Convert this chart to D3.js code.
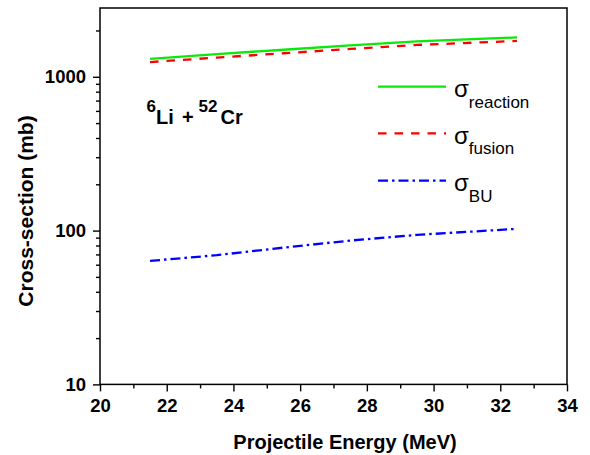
<!DOCTYPE html>
<html>
<head>
<meta charset="utf-8">
<script src="https://cdn.jsdelivr.net/npm/d3@7"></script>
<style>
  body { margin: 0; background: #fff; }
  text { font-family: "Liberation Sans", Arial, sans-serif; }
</style>
</head>
<body>
<div id="chart"></div>
<script>
// data
let energy = [21.5, 23.5, 25.5, 27.5, 29.5, 32.5];
let sigma_reaction = [1309, 1405, 1499, 1598, 1697, 1802];
let sigma_fusion = [1246, 1333, 1422, 1517, 1610, 1710];
let sigma_bu = [63.5, 69.2, 77.5, 86.1, 93.8, 102.6];

let x_ticks = [20, 22, 24, 26, 28, 30, 32, 34];
let y_ticks = [10, 100, 1000];

let series = [
  {name: "reaction", values: sigma_reaction, color: "#0be80b", dash: null},
  {name: "fusion", values: sigma_fusion, color: "#ff0000", dash: "8.5,8"},
  {name: "BU", values: sigma_bu, color: "#0000ff", dash: "10,4,2.5,4"}
];

let w = 590;
let h = 455;
let m_left = 100, m_right = 567, m_top = 8, m_bottom = 384.4;

let svg = d3.select("#chart")
            .append("svg")
              .attr("width", w)
              .attr("height", h);

// scales
let xScale = d3.scaleLinear()
               .domain([20, 34])
               .range([m_left, m_right]);
let yScale = d3.scaleLog()
               .domain([10, 2800])
               .range([m_bottom, m_top]);

// minor ticks
let x_minor = d3.range(21, 34, 2);
let y_minor = [];
[10, 100, 1000].forEach(function(d){
  for (let k = 2; k <= 9; k++){
    if (d*k <= 2800) y_minor.push(d*k);
  }
});

// axes
let xAxis = d3.axisBottom(xScale)
              .tickValues(x_ticks)
              .tickSize(7)
              .tickPadding(7)
              .tickFormat(d3.format("d"));
let yAxis = d3.axisLeft(yScale)
              .tickValues(y_ticks)
              .tickSize(7)
              .tickPadding(7)
              .tickFormat(d3.format("d"));

svg.append("g")
   .attr("transform", "translate(0," + m_bottom + ")")
   .call(xAxis);
svg.append("g")
   .attr("transform", "translate(" + m_left + ",0)")
   .call(yAxis);

svg.append("g")
   .attr("transform", "translate(0," + m_bottom + ")")
   .call(d3.axisBottom(xScale).tickValues(x_minor).tickSize(4).tickFormat(""));
svg.append("g")
   .attr("transform", "translate(" + m_left + ",0)")
   .call(d3.axisLeft(yScale).tickValues(y_minor).tickSize(4).tickFormat(""));

svg.selectAll(".domain").remove();
svg.selectAll(".tick line").attr("stroke", "#000").attr("stroke-width", 1.4);
svg.selectAll(".tick text")
   .attr("font-size", "18.5px")
   .attr("font-weight", "bold")
   .attr("fill", "#000");

// frame
svg.append("rect")
   .attr("x", m_left)
   .attr("y", m_top)
   .attr("width", m_right - m_left)
   .attr("height", m_bottom - m_top)
   .attr("fill", "none")
   .attr("stroke", "#000")
   .attr("stroke-width", 1.5);

// lines
let line = d3.line()
             .x(function(d, i){ return xScale(energy[i]); })
             .y(function(d){ return yScale(d); });

series.forEach(function(s){
  svg.append("path")
     .datum(s.values)
     .attr("d", line)
     .attr("fill", "none")
     .attr("stroke", s.color)
     .attr("stroke-width", 2.3)
     .attr("stroke-dasharray", s.dash);
});

// legend
let legend_y = [86.7, 133.3, 180.7];
series.forEach(function(s, i){
  let y = legend_y[i];
  svg.append("line")
     .attr("x1", 378).attr("x2", 446)
     .attr("y1", y).attr("y2", y)
     .attr("stroke", s.color)
     .attr("stroke-width", 2.3)
     .attr("stroke-dasharray", s.dash);
  let t = svg.append("text")
     .attr("x", 454)
     .attr("y", y + 10.5)
     .attr("font-size", "24px");
  t.append("tspan").text("σ");
  t.append("tspan")
   .attr("font-size", "17px")
   .attr("dy", 10.5)
   .text(s.name);
});

// reaction label
let lbl = svg.append("text")
   .attr("y", 124)
   .attr("font-size", "20px")
   .attr("font-weight", "bold");
lbl.append("tspan").attr("x", 146.5).attr("dy", -12).attr("font-size", "17px").text("6");
lbl.append("tspan").attr("x", 156).attr("dy", 12).text("Li");
lbl.append("tspan").attr("x", 182).text("+");
lbl.append("tspan").attr("x", 198.5).attr("dy", -12).attr("font-size", "17px").text("52");
lbl.append("tspan").attr("x", 220.5).attr("dy", 12).text("Cr");

// axis labels
svg.append("text")
   .attr("text-anchor", "middle")
   .attr("x", 345)
   .attr("y", 448.5)
   .attr("font-size", "20px")
   .attr("font-weight", "bold")
   .text("Projectile Energy (MeV)");
svg.append("text")
   .attr("text-anchor", "middle")
   .attr("transform", "translate(33,211) rotate(-90)")
   .attr("font-size", "21px")
   .attr("font-weight", "bold")
   .text("Cross-section (mb)");
</script>
</body>
</html>
